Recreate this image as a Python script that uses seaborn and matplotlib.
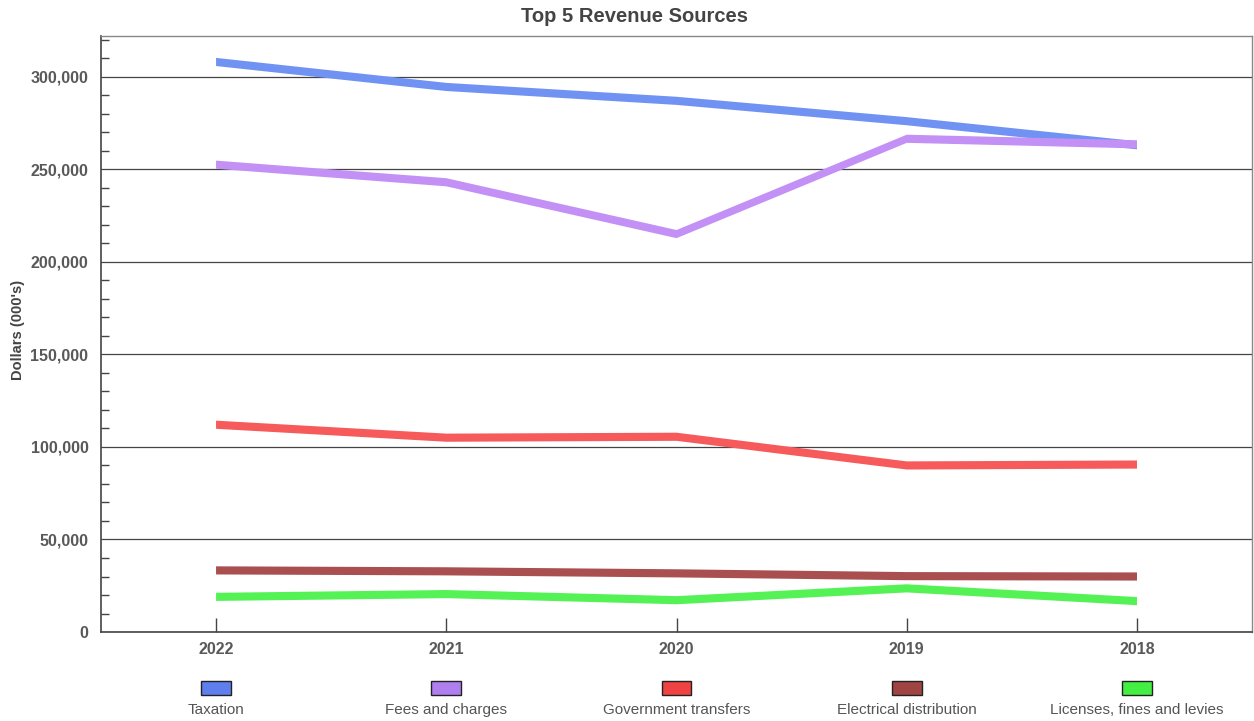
import numpy as np
import pandas as pd
import matplotlib
matplotlib.use("Agg")
import matplotlib.pyplot as plt
import matplotlib.transforms as mtransforms
from matplotlib.patches import Rectangle
from matplotlib.ticker import MultipleLocator, FuncFormatter
import seaborn as sns

years = ["2022", "2021", "2020", "2019", "2018"]
series_names = ["Taxation", "Fees and charges", "Government transfers",
                "Electrical distribution", "Licenses, fines and levies"]
taxation = [308000, 294500, 287000, 276000, 263000]
fees_and_charges = [252500, 243000, 215000, 266500, 263500]
government_transfers = [112000, 105000, 105500, 90000, 90500]
electrical_distribution = [33300, 32800, 31700, 30200, 30000]
licenses_fines_levies = [19000, 20500, 17200, 23600, 16700]

line_colors = ["#7092F2", "#C390F5", "#F65A5A", "#A94F4F", "#55F255"]
swatch_colors = ["#5F7FEF", "#B07FEF", "#EF4343", "#9F4343", "#43EF43"]

values = [taxation, fees_and_charges, government_transfers,
          electrical_distribution, licenses_fines_levies]
df = pd.DataFrame({
    "year": np.tile(years, len(series_names)),
    "idx": np.tile(np.arange(len(years)), len(series_names)),
    "source": np.repeat(series_names, len(years)),
    "value": np.concatenate(values),
})

sns.set_theme(style="white")
plt.rcParams["font.family"] = ["Liberation Sans", "DejaVu Sans"]

fig = plt.figure(figsize=(12.54, 7.21), dpi=100)
ax = fig.add_axes([0.0805, 0.1234, 0.918, 0.8266])

# seaborn draws the series paths; a constant-height band over each path
# gives the flat ribbon look
sns.lineplot(data=df, x="idx", y="value", hue="source", hue_order=series_names,
             palette=line_colors, linewidth=0.5, legend=False, ax=ax, sort=False,
             solid_capstyle="butt", zorder=2)
half = 2200
for name, col in zip(series_names, line_colors):
    sub = df[df["source"] == name]
    ax.fill_between(sub["idx"], sub["value"] - half, sub["value"] + half,
                    facecolor=col, edgecolor="none", linewidth=0, zorder=3)

ax.set_xlim(-0.5, 4.5)
ax.set_ylim(0, 322000)
ax.set_xticks(range(len(years)))
ax.set_xticklabels(years)
ax.yaxis.set_major_locator(MultipleLocator(50000))
ax.yaxis.set_minor_locator(MultipleLocator(10000))
ax.yaxis.set_major_formatter(FuncFormatter(lambda v, p: f"{int(v):,}"))
ax.grid(axis="y", which="major", color="#444444", linewidth=0.9)
ax.set_axisbelow(True)

ax.tick_params(axis="y", which="major", direction="out", length=7, width=1,
               color="#444444", labelsize=11.5, labelcolor="#595959", pad=2)
ax.tick_params(axis="y", which="minor", direction="in", length=6, width=1,
               color="#444444", left=True)
ax.tick_params(axis="x", which="major", direction="in", length=10, width=1,
               color="#444444", labelsize=11.5, labelcolor="#595959", pad=7,
               bottom=True)
for lab in ax.get_xticklabels() + ax.get_yticklabels():
    lab.set_fontweight("bold")

for side in ["left", "bottom"]:
    ax.spines[side].set_color("#444444")
    ax.spines[side].set_linewidth(1.2)
for side in ["top", "right"]:
    ax.spines[side].set_color("#888888")
    ax.spines[side].set_linewidth(1.0)

ax.set_xlabel("")
ax.set_ylabel("Dollars (000's)", fontsize=10.5, fontweight="bold", color="#444444")
ax.yaxis.set_label_coords(-0.066, 0.507)

fig.text(0.506, 0.977, "Top 5 Revenue Sources", ha="center", va="center",
         fontsize=14.5, fontweight="bold", color="#444444")

# legend: swatch above each label, aligned with the year columns
trans = mtransforms.blended_transform_factory(ax.transData, ax.transAxes)
for i, (name, col) in enumerate(zip(series_names, swatch_colors)):
    ax.add_patch(Rectangle((i - 0.065, -0.106), 0.13, 0.0235, transform=trans,
                           facecolor=col, edgecolor="#222222", linewidth=1.0,
                           clip_on=False))
    ax.text(i, -0.131, name, transform=trans, ha="center", va="center",
            fontsize=11, color="#555555", clip_on=False)

fig.savefig("out.png", dpi=100)
